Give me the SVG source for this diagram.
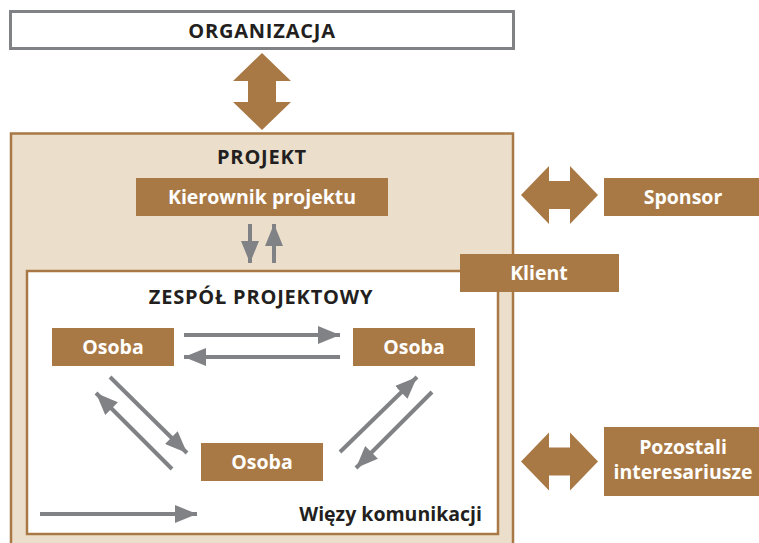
<svg xmlns="http://www.w3.org/2000/svg" width="759" height="543" viewBox="0 0 759 543">
  <defs>
    <style>
      .lbl { font-family: "Open Sans", "Liberation Sans", sans-serif; font-weight: 700; text-anchor: middle; font-size: 19.5px; }
      .title { font-size: 20px; letter-spacing: 0.8px; }
      .dark { fill: #231f20; }
      .light { fill: #ffffff; }
      .node { fill: #a97945; }
      .link { stroke: #808285; stroke-width: 4; fill: none; marker-end: url(#head); }
      .big { fill: #a97945; }
    </style>
    <marker id="head" markerUnits="userSpaceOnUse" markerWidth="24" markerHeight="18" refX="22" refY="9" orient="auto">
      <path d="M0,0 L22,9 L0,18 Z" fill="#808285"/>
    </marker>
    <path id="dbl" d="M-38.5,0 L-10.5,-29 L-10.5,-14 L10.5,-14 L10.5,-29 L38.5,0 L10.5,29 L10.5,14 L-10.5,14 L-10.5,29 Z"/>
  </defs>

  <rect width="759" height="543" fill="#ffffff"/>

  <!-- organization -->
  <g id="organizacja">
    <rect x="10.5" y="11.5" width="503" height="37" fill="#ffffff" stroke="#808285" stroke-width="3"/>
    <text class="lbl title dark" x="262" y="37.5">ORGANIZACJA</text>
  </g>

  <!-- project container -->
  <g id="projekt">
    <rect x="11" y="133.5" width="502" height="420" fill="#ebdfcc" stroke="#a97945" stroke-width="2.5"/>
    <text class="lbl title dark" x="262" y="164">PROJEKT</text>
  </g>

  <!-- project team container -->
  <g id="zespol">
    <rect x="27" y="271" width="471" height="263" fill="#ffffff" stroke="#a97945" stroke-width="2.5"/>
    <text class="lbl title dark" x="261" y="304">ZESPÓŁ PROJEKTOWY</text>
  </g>

  <g id="kierownik">
    <rect class="node" x="136" y="178" width="252" height="38"/>
    <text class="lbl light" x="262" y="204">Kierownik projektu</text>
  </g>

  <g id="klient">
    <rect class="node" x="460" y="254" width="159" height="38"/>
    <text class="lbl light" x="539" y="280">Klient</text>
  </g>

  <g id="sponsor">
    <rect class="node" x="604" y="178" width="155" height="38"/>
    <text class="lbl light" x="683" y="204">Sponsor</text>
  </g>

  <g id="pozostali">
    <rect class="node" x="604" y="427" width="155" height="69"/>
    <text class="lbl light" x="683" y="454">Pozostali</text>
    <text class="lbl light" x="683" y="479">interesariusze</text>
  </g>

  <g id="osoba-lewa">
    <rect class="node" x="52" y="328" width="122" height="38"/>
    <text class="lbl light" x="113" y="354">Osoba</text>
  </g>
  <g id="osoba-prawa">
    <rect class="node" x="353" y="328" width="122" height="38"/>
    <text class="lbl light" x="414" y="354">Osoba</text>
  </g>
  <g id="osoba-dolna">
    <rect class="node" x="201" y="443" width="122" height="38"/>
    <text class="lbl light" x="262" y="469">Osoba</text>
  </g>

  <g id="legenda">
    <text class="lbl dark" x="482" y="521" style="text-anchor:end">Więzy komunikacji</text>
  </g>

  <!-- connectors -->
  <g id="connectors">
    <use href="#dbl" class="big" transform="translate(262,91.5) rotate(90)"/>
    <use href="#dbl" class="big" transform="translate(559.5,195)"/>
    <use href="#dbl" class="big" transform="translate(559.5,461.5)"/>

    <line class="link" x1="250" y1="224" x2="250" y2="263"/>
    <line class="link" x1="274" y1="263" x2="274" y2="224"/>

    <line class="link" x1="184" y1="335" x2="340" y2="335"/>
    <line class="link" x1="340" y1="357" x2="184" y2="357"/>

    <line class="link" x1="110" y1="377" x2="187" y2="453"/>
    <line class="link" x1="172" y1="469" x2="96" y2="393"/>

    <line class="link" x1="340" y1="452" x2="417" y2="377"/>
    <line class="link" x1="432" y1="392" x2="356" y2="468"/>

    <line class="link" x1="40" y1="514" x2="197" y2="514"/>
  </g>
</svg>
